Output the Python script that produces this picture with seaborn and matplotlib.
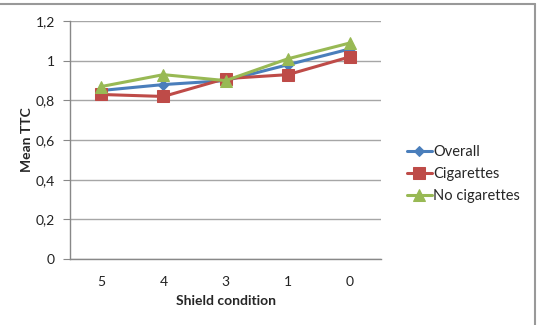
import pandas as pd
import matplotlib.pyplot as plt
import seaborn as sns
from matplotlib.lines import Line2D

# ─── data ─────────────────────────────────────────────────────
conditions = ['5', '4', '3', '1', '0']
overall = [0.85, 0.88, 0.90, 0.98, 1.06]
cigarettes = [0.83, 0.82, 0.91, 0.93, 1.02]
no_cigarettes = [0.87, 0.93, 0.90, 1.01, 1.09]

series = ['Overall', 'Cigarettes', 'No cigarettes']
colors = ['#4A7EBB', '#BE4B48', '#98B954']
markers = ['D', 's', '^']
msizes = [5, 9, 8]

df = pd.DataFrame({
    'pos': list(range(len(conditions))) * 3,
    'ttc': overall + cigarettes + no_cigarettes,
    'group': [s for s in series for _ in conditions],
})

sns.set_style('white')
plt.rcParams['font.family'] = ['Lato', 'DejaVu Sans']

fig = plt.figure(figsize=(5.43, 3.25), dpi=100)
ax = fig.add_axes([0.129, 0.203, 0.573, 0.732])

for name, col, mk, ms in zip(series, colors, markers, msizes):
    sub = df[df['group'] == name]
    sns.lineplot(data=sub, x='pos', y='ttc', ax=ax, color=col, marker=mk,
                 markersize=ms, markeredgecolor=col, linewidth=2.2, label=name)

ax.set_xlim(-0.5, 4.5)
ax.set_ylim(0, 1.2)
ax.set_xticks(range(len(conditions)))
ax.set_xticklabels(conditions)
yt = [0, 0.2, 0.4, 0.6, 0.8, 1.0, 1.2]
ax.set_yticks(yt)
ax.set_yticklabels(['0', '0,2', '0,4', '0,6', '0,8', '1', '1,2'])
ax.grid(axis='y', color='#A6A6A6', linewidth=1)
ax.tick_params(axis='y', length=5, color='#888888', labelsize=10, pad=6, left=True)
ax.tick_params(axis='x', length=0, labelsize=10, pad=12)
for t in ax.get_xticklabels() + ax.get_yticklabels():
    t.set_color('#222222')

for side in ['top', 'right']:
    ax.spines[side].set_visible(False)
for side in ['left', 'bottom']:
    ax.spines[side].set_color('#888888')
    ax.spines[side].set_linewidth(1)

ax.set_xlabel('Shield condition', fontsize=10, fontweight='bold', labelpad=5)
ax.set_ylabel('Mean TTC', fontsize=10, fontweight='bold', labelpad=2)

ax.legend(loc='center left', bbox_to_anchor=(1.04, 0.357), frameon=False,
          fontsize=10.5, handlelength=1.7, handletextpad=0.1, labelspacing=0.55)

# outer chart border
fig.add_artist(Line2D([0, 0.986], [0.988, 0.988], color='#999999', lw=1.5))
fig.add_artist(Line2D([0.986, 0.986], [0, 0.988], color='#999999', lw=1.5))

fig.savefig('out.png', dpi=100)
